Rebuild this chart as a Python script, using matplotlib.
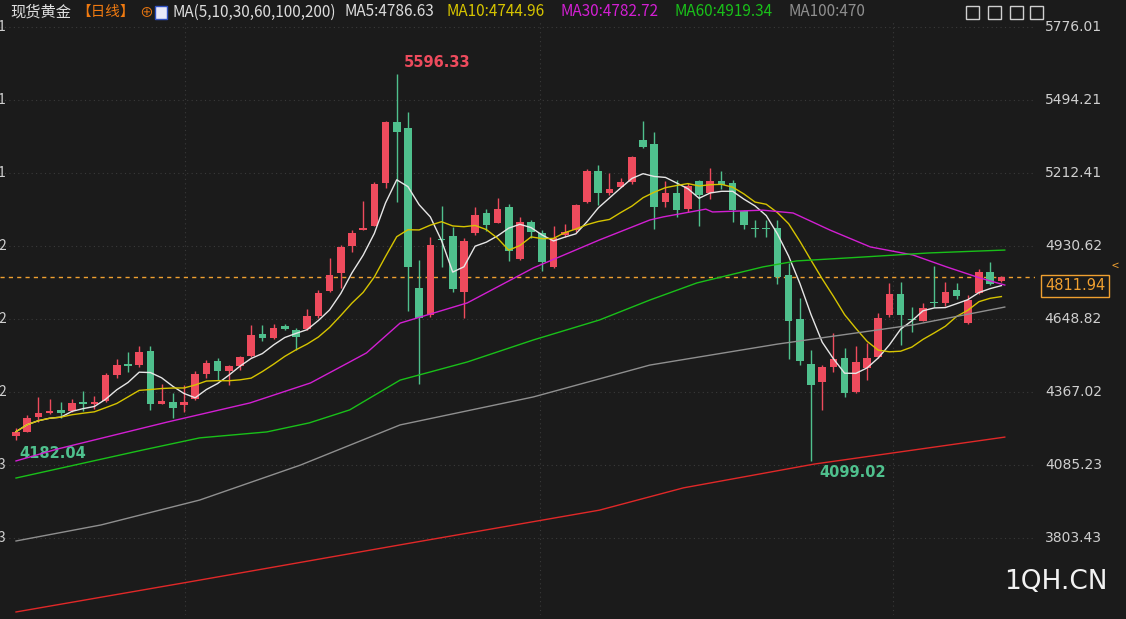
import matplotlib
matplotlib.use("Agg")
import matplotlib.pyplot as plt
import numpy as np
import pandas as pd

plt.rcParams['font.family'] = ['Noto Sans CJK SC', 'DejaVu Sans']

# daily candles: open, close, high, low
opens = [4197, 4214, 4269, 4285, 4296, 4295, 4328, 4321, 4332, 4432,
         4476, 4470, 4525, 4321, 4330, 4318, 4341, 4436, 4487, 4447,
         4467, 4507, 4590, 4577, 4622, 4606, 4610, 4660, 4757, 4825,
         4931, 4992, 5009, 5173, 5410, 5387, 4770, 4664, 4957, 4969,
         4752, 4980, 5059, 5018, 5082, 4879, 5024, 4982, 4851, 4973,
         4992, 5099, 5220, 5134, 5160, 5177, 5340, 5324, 5102, 5136,
         5072, 5182, 5134, 5182, 5173, 5066, 5001, 4999, 5001, 4819,
         4649, 4475, 4407, 4465, 4499, 4366, 4459, 4501, 4664, 4747,
         4648, 4641, 4716, 4712, 4761, 4632, 4748, 4832, 4795]
closes = [4214, 4268, 4287, 4294, 4287, 4326, 4321, 4328, 4433, 4471,
          4466, 4520, 4321, 4332, 4307, 4327, 4437, 4480, 4448, 4467,
          4501, 4587, 4574, 4615, 4610, 4580, 4660, 4750, 4819, 4926,
          4980, 5001, 5170, 5408, 5372, 4848, 4652, 4935, 4952, 4763,
          4950, 5050, 5012, 5073, 4913, 5024, 4986, 4868, 4960, 4986,
          5089, 5220, 5134, 5152, 5178, 5273, 5312, 5080, 5134, 5070,
          5163, 5128, 5182, 5166, 5070, 5012, 4997, 4995, 4812, 4641,
          4487, 4394, 4462, 4493, 4362, 4484, 4499, 4654, 4747, 4664,
          4645, 4693, 4709, 4754, 4739, 4722, 4832, 4784, 4812]
highs = [4229, 4278, 4347, 4340, 4327, 4340, 4370, 4350, 4442, 4496,
         4520, 4543, 4543, 4397, 4362, 4394, 4447, 4490, 4497, 4471,
         4506, 4626, 4626, 4629, 4630, 4615, 4688, 4762, 4884, 4934,
         4992, 5104, 5178, 5413, 5596.33, 5447, 4877, 4966, 5086, 5003,
         4960, 5080, 5074, 5115, 5093, 5043, 5030, 4992, 5009, 5015,
         5094, 5227, 5243, 5213, 5195, 5279, 5413, 5372, 5180, 5185,
         5175, 5185, 5233, 5220, 5185, 5070, 5031, 5031, 5031, 4864,
         4731, 4529, 4471, 4596, 4538, 4546, 4557, 4673, 4787, 4793,
         4696, 4711, 4853, 4793, 4789, 4740, 4841, 4869, 4815]
lows = [4182.04, 4213, 4252, 4282, 4267, 4291, 4293, 4302, 4330, 4422,
        4443, 4465, 4297, 4320, 4268, 4290, 4336, 4420, 4414, 4396,
        4453, 4501, 4564, 4570, 4605, 4529, 4606, 4653, 4754, 4769,
        4907, 4992, 5009, 5155, 5102, 4681, 4398, 4656, 4851, 4752,
        4651, 4975, 4990, 5018, 4873, 4875, 4960, 4835, 4845, 4965,
        4985, 5095, 5089, 5128, 5158, 5170, 5309, 4995, 5080, 5044,
        5060, 5008, 5112, 5150, 5024, 4995, 4967, 4967, 4785, 4494,
        4471, 4099.02, 4298, 4446, 4347, 4364, 4413, 4500, 4655, 4549,
        4598, 4640, 4696, 4700, 4727, 4630, 4744, 4780, 4793]

# longer moving averages (candle index, price)
ma30_idx = [0, 3.7, 13.5, 20.9, 26.3, 29.8, 31.3, 34.3, 40.3, 46.2, 52.1, 56.6,
            57.8, 61.6, 62.2, 66.7, 69.4, 72.7, 76.3, 80.1, 83.1, 86.1, 88.3]
ma30_val = [4101, 4147, 4251, 4325, 4402, 4483, 4518, 4633, 4711, 4846, 4954, 5031,
            5043, 5073, 5062, 5069, 5058, 4992, 4927, 4896, 4850, 4807, 4780]
ma60_idx = [0, 11.3, 16.4, 22.4, 26.2, 29.8, 34.3, 40.3, 46.2, 52.1, 56.6,
            60.8, 66.7, 69.7, 75.6, 81.6, 88.3]
ma60_val = [4035, 4143, 4190, 4213, 4248, 4298, 4413, 4483, 4568, 4645, 4722,
            4788, 4850, 4873, 4888, 4904, 4915]
ma100_idx = [0, 7.6, 16.4, 25.4, 34.3, 46.2, 56.6, 68.0, 80.1, 88.3]
ma100_val = [3792, 3854, 3950, 4085, 4240, 4348, 4471, 4552, 4626, 4695]
ma200_idx = [0, 16.4, 34.3, 52.1, 59.6, 71.3, 88.3]
ma200_val = [3518, 3641, 3777, 3911, 3997, 4089, 4193]

yticks = [5776.01, 5494.21, 5212.41, 4930.62, 4648.82, 4367.02, 4085.23, 3803.43]
last_price = 4811.94

BG = '#1b1b1b'
RED = '#ee4b5d'
GREEN = '#4fc08d'

fig = plt.figure(figsize=(11.26, 6.19), dpi=100, facecolor=BG)
ax = fig.add_axes([0, 4 / 619, 1035 / 1126, 593 / 619])
ax.set_facecolor(BG)
ax.set_xlim(-1.43, 91.0)
ax.set_ylim(3506.3, 5795.3)
for s in ax.spines.values():
    s.set_visible(False)
ax.set_xticks([])
ax.set_yticks([])

for yv in yticks:
    ax.axhline(yv, color='#3a3a3a', lw=0.8, ls=(0, (1, 3)), zorder=0)
for xv in [15.1, 46.8, 78.3]:
    ax.axvline(xv, color='#3a3a3a', lw=0.8, ls=(0, (1, 3)), zorder=0)

n = len(closes)
x = np.arange(n)
for i in range(n):
    up = closes[i] >= opens[i]
    c = RED if up else GREEN
    ax.vlines(i, lows[i], highs[i], color=c, lw=1, zorder=3)
    lo, hi = min(opens[i], closes[i]), max(opens[i], closes[i])
    ax.bar(i, max(hi - lo, 4), bottom=lo, width=0.68, color=c, zorder=4, lw=0)

cs = pd.Series(closes)
ma5 = cs.rolling(5, min_periods=1).mean()
ma10 = cs.rolling(10, min_periods=1).mean()
ax.plot(x, ma5, color='#e6e6e6', lw=1, zorder=5)
ax.plot(x, ma10, color='#d6c400', lw=1, zorder=5)
ax.plot(ma30_idx, ma30_val, color='#d21fd2', lw=1, zorder=5)
ax.plot(ma60_idx, ma60_val, color='#19c019', lw=1, zorder=5)
ax.plot(ma100_idx, ma100_val, color='#8f8f8f', lw=1, zorder=5)
ax.plot(ma200_idx, ma200_val, color='#e02828', lw=1, zorder=5)

ax.axhline(last_price, color='#f0a030', lw=1, ls=(0, (3, 3)), zorder=2)

# extreme labels
lab = dict(fontsize=10.5, ha='left', family='DejaVu Sans', fontweight='bold')
ax.text(34.6, 5610, '5596.33', color=RED, va='bottom', **lab)
ax.text(0.3, 4160, '4182.04', color=GREEN, va='top', **lab)
ax.text(71.7, 4085, '4099.02', color=GREEN, va='top', **lab)

# right axis labels
for yv in yticks:
    fig.text(1102 / 1126, ax.transData.transform((0, yv))[1] / 619, f'{yv:.2f}',
             color='#cfcfcf', fontsize=10, ha='right', va='center', family='DejaVu Sans')
ypix = ax.transData.transform((0, last_price))[1] / 619
fig.text(1045 / 1126, ypix - 9 / 619, f'{last_price:.2f}', color='#f0a030', fontsize=10.5,
         ha='left', va='center', family='DejaVu Sans',
         bbox=dict(boxstyle='square,pad=0.25', fc=BG, ec='#f0a030', lw=1))
fig.text(1112 / 1126, ypix + 10 / 619, '<', color='#f0a030', fontsize=9, ha='left',
         va='center')
# cut-off left labels
for yv, t in zip(yticks, ['1', '1', '1', '2', '2', '2', '3', '3']):
    fig.text(-2 / 1126, ax.transData.transform((0, yv))[1] / 619, t, color='#cfcfcf',
             fontsize=10, ha='left', va='center')

# header
hy = 1 - 12 / 619
parts = [(10, '现货黄金', '#e0e0e0', 11), (76, '【日线】', '#f07a10', 10.5),
         (139, '⊕', '#f07a10', 10),
         (172, 'MA(5,10,30,60,100,200)', '#dcdcdc', 11), (344, 'MA5:4786.63', '#dcdcdc', 11),
         (447, 'MA10:4744.96', '#d6c400', 11), (561, 'MA30:4782.72', '#d21fd2', 11),
         (675, 'MA60:4919.34', '#19c019', 11), (788, 'MA100:470', '#8f8f8f', 11)]
for px, t, c, fs in parts:
    fig.text(px / 1126, hy, t, color=c, fontsize=fs, va='center', ha='left')
fig.patches.append(plt.Rectangle((155 / 1126, hy - 7 / 619), 12 / 1126, 13 / 619,
                                 transform=fig.transFigure, fc='#e8e8f8', ec='#3050c0', lw=1))
for px in [966, 988, 1010, 1030]:
    fig.patches.append(plt.Rectangle((px / 1126, hy - 7 / 619), 13 / 1126, 13 / 619,
                                     transform=fig.transFigure, fc='none', ec='#cfcfcf', lw=1))

fig.text(1108 / 1126, 1 - 582 / 619, '1QH.CN', color='#f2f2f2', fontsize=19, ha='right',
         va='center', family='DejaVu Sans')

fig.savefig('out.png', dpi=100, facecolor=BG)
